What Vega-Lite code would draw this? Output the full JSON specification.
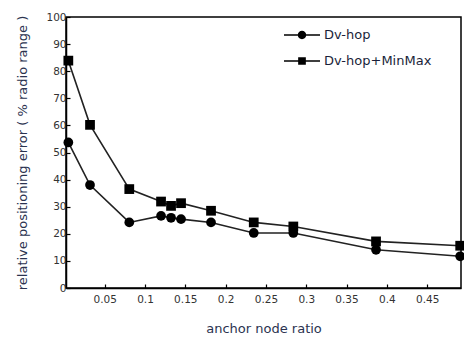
{
  "$schema": "https://vega.github.io/schema/vega-lite/v6.json",
  "autosize": "none",
  "width": 395,
  "height": 271,
  "padding": {"left": 66, "top": 17, "right": 3, "bottom": 50},
  "background": "white",
  "config": {
    "view": {"stroke": "black", "strokeWidth": 1.5},
    "font": "DejaVu Sans",
    "axis": {
      "domainColor": "black", "domainWidth": 1.5,
      "tickColor": "black", "tickWidth": 1.2, "tickSize": -4,
      "labelColor": "#333", "labelFont": "DejaVu Sans", "labelFontSize": 10.5,
      "titleColor": "#2b3350", "titleFont": "DejaVu Sans", "titleFontSize": 13, "titleFontWeight": "normal",
      "grid": false
    }
  },
  "data": {"values": [
    {"ratio": 0.0049, "error": 53.7, "method": "Dv-hop"},
    {"ratio": 0.0318, "error": 38.0, "method": "Dv-hop"},
    {"ratio": 0.0805, "error": 24.2, "method": "Dv-hop"},
    {"ratio": 0.1199, "error": 26.6, "method": "Dv-hop"},
    {"ratio": 0.1323, "error": 25.9, "method": "Dv-hop"},
    {"ratio": 0.1447, "error": 25.4, "method": "Dv-hop"},
    {"ratio": 0.1819, "error": 24.2, "method": "Dv-hop"},
    {"ratio": 0.2349, "error": 20.3, "method": "Dv-hop"},
    {"ratio": 0.2840, "error": 20.3, "method": "Dv-hop"},
    {"ratio": 0.3866, "error": 14.1, "method": "Dv-hop"},
    {"ratio": 0.491, "error": 11.7, "method": "Dv-hop"},
    {"ratio": 0.0049, "error": 83.9, "method": "Dv-hop+MinMax"},
    {"ratio": 0.0318, "error": 60.2, "method": "Dv-hop+MinMax"},
    {"ratio": 0.0805, "error": 36.5, "method": "Dv-hop+MinMax"},
    {"ratio": 0.1199, "error": 31.9, "method": "Dv-hop+MinMax"},
    {"ratio": 0.1323, "error": 30.3, "method": "Dv-hop+MinMax"},
    {"ratio": 0.1447, "error": 31.3, "method": "Dv-hop+MinMax"},
    {"ratio": 0.1819, "error": 28.5, "method": "Dv-hop+MinMax"},
    {"ratio": 0.2349, "error": 24.2, "method": "Dv-hop+MinMax"},
    {"ratio": 0.2840, "error": 22.7, "method": "Dv-hop+MinMax"},
    {"ratio": 0.3866, "error": 17.2, "method": "Dv-hop+MinMax"},
    {"ratio": 0.491, "error": 15.6, "method": "Dv-hop+MinMax"}
  ]},
  "encoding": {
    "x": {
      "field": "ratio", "type": "quantitative",
      "scale": {"domain": [0.002, 0.492], "nice": false, "zero": false},
      "axis": {
        "title": "anchor node ratio",
        "values": [0.05, 0.1, 0.15, 0.2, 0.25, 0.3, 0.35, 0.4, 0.45],
        "format": ".2~f", "labelPadding": 10, "titlePadding": 18,
        "labelFlush": false
      }
    },
    "y": {
      "field": "error", "type": "quantitative",
      "scale": {"domain": [0, 100], "nice": false},
      "axis": {
        "title": "relative positioning error ( % radio range )",
        "values": [0, 10, 20, 30, 40, 50, 60, 70, 80, 90, 100],
        "labelPadding": 4, "titlePadding": 16, "labelFlush": false
      }
    }
  },
  "resolve": {"scale": {"shape": "independent"}, "legend": {"shape": "independent"}},
  "layer": [
    {
      "mark": {"type": "line", "strokeWidth": 1.6, "color": "#222222"},
      "encoding": {
        "detail": {"field": "method", "type": "nominal"}
      }
    },
    {
      "mark": {"type": "point", "filled": true, "size": 95, "opacity": 1, "color": "black"},
      "encoding": {
        "shape": {
          "field": "method", "type": "nominal",
          "scale": {"domain": ["Dv-hop", "Dv-hop+MinMax"], "range": ["circle", "square"]},
          "legend": null
        }
      }
    },
    {
      "mark": {"type": "point", "filled": true, "size": 144, "opacity": 0, "color": "black"},
      "encoding": {
        "shape": {
          "field": "method", "type": "nominal",
          "scale": {"domain": ["Dv-hop", "Dv-hop+MinMax"], "range": [
            "M-3,-0.12H3V0.12H-3ZM0.7,0A0.7,0.7,0,1,1,-0.7,0A0.7,0.7,0,1,1,0.7,0Z",
            "M-3,-0.12H3V0.12H-3ZM-0.64,-0.64H0.64V0.64H-0.64Z"
          ]},
          "legend": {
            "title": null, "orient": "none", "legendX": 229, "legendY": 11,
            "padding": 0, "symbolSize": 144, "labelOffset": 15, "rowPadding": 12,
            "labelFont": "DejaVu Sans", "labelFontSize": 13, "labelColor": "#1a1f3a",
            "symbolFillColor": "black", "symbolStrokeColor": "black", "symbolStrokeWidth": 1.3,
            "symbolOpacity": 1
          }
        }
      }
    }
  ]
}
